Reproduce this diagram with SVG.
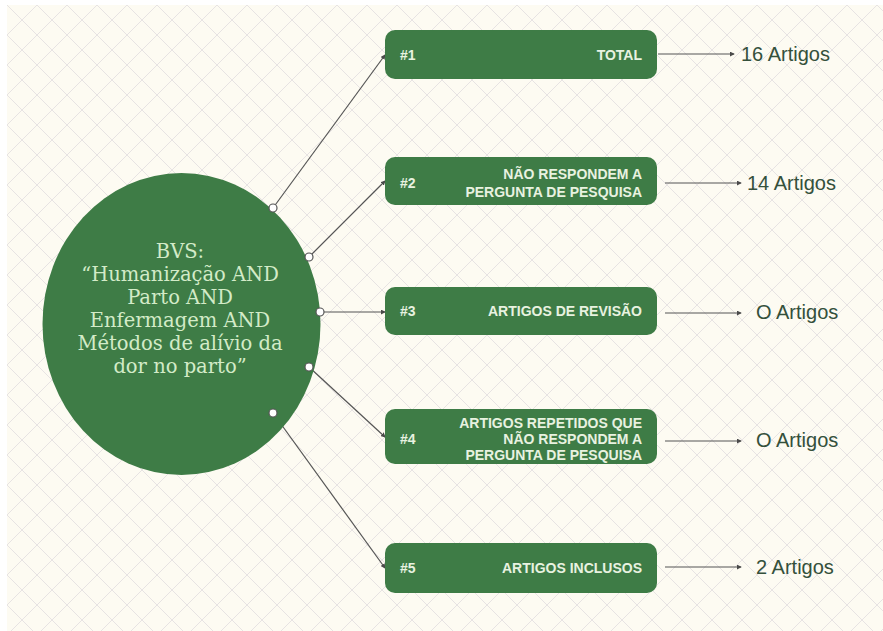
<svg xmlns="http://www.w3.org/2000/svg" width="883" height="631" viewBox="0 0 883 631">
<defs>
<pattern id="grid" x="7" y="5" width="30" height="30" patternUnits="userSpaceOnUse">
<rect width="30" height="30" fill="#fdfbf2"/>
<path d="M0 0L30 30M30 0L0 30" stroke="#e7e3e3" stroke-width="1"/>
</pattern>
<marker id="ah" viewBox="0 0 6 6" refX="5" refY="3" markerWidth="5" markerHeight="5" markerUnits="userSpaceOnUse" orient="auto">
<path d="M0 0L6 3L0 6Z" fill="#4a4a4a"/>
</marker>
<style>
.box{fill:#3e7c46;}
.bt{font-family:"Liberation Sans",Arial,sans-serif;font-weight:bold;font-size:14px;fill:#e8f2e0;}
.r{text-anchor:end;}
.lbl{font-family:"Liberation Sans",Arial,sans-serif;font-size:20px;fill:#34503b;}
.ln{stroke:#555;stroke-width:1.2;fill:none;}
.dot{fill:#ffffff;stroke:#555;stroke-width:1.2;}
.et{font-family:"DejaVu Serif","Liberation Serif",serif;font-size:19.5px;fill:#d3ebc8;text-anchor:middle;}
</style>
</defs>
<rect width="883" height="631" fill="#ffffff"/>
<rect x="7" y="5" width="876" height="626" fill="url(#grid)"/>

<g id="connectors">
<line class="ln" x1="273" y1="208" x2="385" y2="55" marker-end="url(#ah)"/>
<line class="ln" x1="309" y1="257" x2="385" y2="181" marker-end="url(#ah)"/>
<line class="ln" x1="320" y1="312" x2="385" y2="312" marker-end="url(#ah)"/>
<line class="ln" x1="309" y1="367" x2="385" y2="437" marker-end="url(#ah)"/>
<line class="ln" x1="273" y1="413" x2="385" y2="568" marker-end="url(#ah)"/>
<line class="ln" x1="658" y1="54" x2="734" y2="54" marker-end="url(#ah)"/>
<line class="ln" x1="665" y1="183" x2="741" y2="183" marker-end="url(#ah)"/>
<line class="ln" x1="665" y1="313" x2="741" y2="313" marker-end="url(#ah)"/>
<line class="ln" x1="665" y1="441" x2="741" y2="441" marker-end="url(#ah)"/>
<line class="ln" x1="665" y1="567" x2="741" y2="567" marker-end="url(#ah)"/>
</g>

<g id="bvs">
<ellipse cx="181.5" cy="324" rx="139" ry="151" fill="#3e7c46"/>
<text class="et" x="180" y="258">BVS:</text>
<text class="et" x="180" y="281">“Humanização AND</text>
<text class="et" x="180" y="304">Parto AND</text>
<text class="et" x="180" y="327">Enfermagem AND</text>
<text class="et" x="180" y="350">Métodos de alívio da</text>
<text class="et" x="180" y="373">dor no parto”</text>
</g>
<g id="dots">
<circle class="dot" cx="273" cy="208" r="4"/>
<circle class="dot" cx="309" cy="257" r="4"/>
<circle class="dot" cx="320" cy="312" r="4"/>
<circle class="dot" cx="309" cy="367" r="4"/>
<circle class="dot" cx="273" cy="413" r="4"/>
</g>

<g id="n1">
<rect class="box" x="385" y="30" width="272" height="49" rx="10"/>
<text class="bt" x="400" y="60">#1</text>
<text class="bt r" x="642" y="60">TOTAL</text>
</g>
<g id="n2">
<rect class="box" x="385" y="157" width="272" height="48" rx="10"/>
<text class="bt" x="400" y="188">#2</text>
<text class="bt r" x="642" y="179">NÃO RESPONDEM A</text>
<text class="bt r" x="642" y="197">PERGUNTA DE PESQUISA</text>
</g>
<g id="n3">
<rect class="box" x="385" y="287" width="272" height="48" rx="10"/>
<text class="bt" x="400" y="316">#3</text>
<text class="bt r" x="642" y="316">ARTIGOS DE REVISÃO</text>
</g>
<g id="n4">
<rect class="box" x="385" y="409" width="272" height="55" rx="10"/>
<text class="bt" x="400" y="444">#4</text>
<text class="bt r" x="642" y="428">ARTIGOS REPETIDOS QUE</text>
<text class="bt r" x="642" y="444">NÃO RESPONDEM A</text>
<text class="bt r" x="642" y="460">PERGUNTA DE PESQUISA</text>
</g>
<g id="n5">
<rect class="box" x="385" y="543" width="272" height="50" rx="10"/>
<text class="bt" x="400" y="573">#5</text>
<text class="bt r" x="642" y="573">ARTIGOS INCLUSOS</text>
</g>

<g id="labels">
<text class="lbl" x="741" y="61">16 Artigos</text>
<text class="lbl" x="747" y="190">14 Artigos</text>
<text class="lbl" x="756" y="319">O Artigos</text>
<text class="lbl" x="756" y="447">O Artigos</text>
<text class="lbl" x="756" y="574">2 Artigos</text>
</g>
</svg>
